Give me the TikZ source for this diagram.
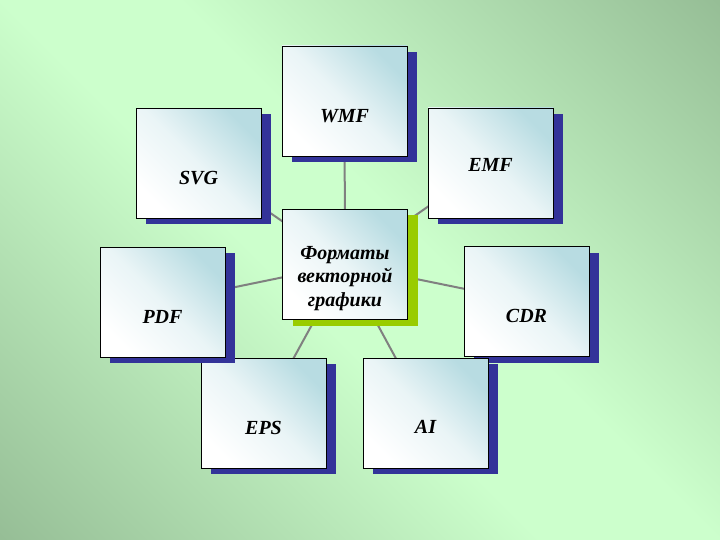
\documentclass[tikz,border=0pt]{standalone}
\usepackage{fontspec}
\setmainfont{Liberation Serif}
\usepackage{xcolor}
\usepackage{tikz}
\usetikzlibrary{shadows}
\definecolor{bglight}{HTML}{CCFFCC}
\definecolor{bgdark}{HTML}{96BE96}
\definecolor{boxteal}{HTML}{B8DCE2}
\definecolor{shadowblue}{HTML}{333399}
\definecolor{shadowgreen}{HTML}{99CC00}
\definecolor{linkgray}{HTML}{808080}
\pgfdeclareverticalshading{bgshade}{100bp}{color(0bp)=(bgdark); color(14.6bp)=(bgdark);
  color(45bp)=(bglight); color(55bp)=(bglight); color(85.4bp)=(bgdark); color(100bp)=(bgdark)}
\pgfdeclarelayer{bg}
\pgfsetlayers{bg,main}
\tikzset{
  boxbase/.style={draw=black,line width=0.8pt,minimum width=125pt,minimum height=110pt,inner sep=0pt,
    top color=boxteal,bottom color=white,middle color=boxteal!30!white,shading angle=-45},
  fmtbox/.style={boxbase,general shadow={fill=shadowblue,shadow xshift=10pt,shadow yshift=-6pt}},
  mainbox/.style={boxbase,general shadow={fill=shadowgreen,shadow xshift=10pt,shadow yshift=-6pt}},
  boxtxt/.style={font=\fontsize{20}{23.5}\selectfont\bfseries\itshape,align=center,inner sep=0pt},
  link/.style={draw=linkgray,line width=2pt}
}

\begin{document}
\begin{tikzpicture}[x=1pt,y=-1pt]
  \node[mainbox] (fmt) at (345,264.5) {};
  \node[boxtxt] (txt-fmt) at (345,278.5) {Форматы\\векторной\\графики};
  \foreach \nm/\cx/\cy/\ty/\txt in {wmf/344.5/101/116/WMF,emf/490.5/163/165/EMF,cdr/526.5/301.5/316/CDR,
      ai/425.5/413/427/AI,eps/263.5/413/428/EPS,pdf/162.5/302/317/PDF,svg/198.5/163.5/178/SVG}{
    \node[fmtbox] (\nm) at (\cx,\cy) {};
    \node[boxtxt] (txt-\nm) at (\cx,\ty) {\txt};
  }
  \begin{pgfonlayer}{bg}
    \shade[shading=bgshade,shading angle=-45] (0,0) rectangle (720,540);
    \foreach \nm in {wmf,emf,cdr,ai,eps,pdf,svg}
      \draw[link] (fmt.center) -- (\nm.center);
  \end{pgfonlayer}
\end{tikzpicture}
\end{document}
